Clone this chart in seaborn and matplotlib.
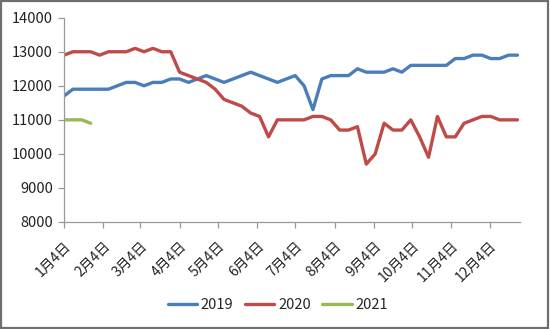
import matplotlib
matplotlib.use("Agg")
import matplotlib.pyplot as plt
import matplotlib.dates as mdates
from matplotlib.patches import Rectangle
import seaborn as sns
import pandas as pd

# ---- data ----
week_dates = pd.date_range("2020-01-04", periods=52, freq="7D")
s2019 = [11700, 11900, 11900, 11900, 11900, 11900, 12000, 12100, 12100, 12000,
         12100, 12100, 12200, 12200, 12100, 12200, 12300, 12200, 12100, 12200,
         12300, 12400, 12300, 12200, 12100, 12200, 12300, 12000, 11300, 12200,
         12300, 12300, 12300, 12500, 12400, 12400, 12400, 12500, 12400, 12600,
         12600, 12600, 12600, 12600, 12800, 12800, 12900, 12900, 12800, 12800,
         12900, 12900]
s2020 = [12900, 13000, 13000, 13000, 12900, 13000, 13000, 13000, 13100, 13000,
         13100, 13000, 13000, 12400, 12300, 12200, 12100, 11900, 11600, 11500,
         11400, 11200, 11100, 10500, 11000, 11000, 11000, 11000, 11100, 11100,
         11000, 10700, 10700, 10800, 9700, 10000, 10900, 10700, 10700, 11000,
         10500, 9900, 11100, 10500, 10500, 10900, 11000, 11100, 11100, 11000,
         11000, 11000]
s2021 = [11000, 11000, 11000, 10900]
series_names = ["2019", "2020", "2021"]
colors = ["#4a7ebb", "#be4b48", "#98b954"]
tick_dates = pd.to_datetime([f"2020-{m:02d}-04" for m in range(1, 13)])
tick_labels = [f"{m}月4日" for m in range(1, 13)]
y_ticks = [8000, 9000, 10000, 11000, 12000, 13000, 14000]

df = pd.concat([
    pd.DataFrame({"date": week_dates[:len(s2019)], "value": s2019, "year": "2019"}),
    pd.DataFrame({"date": week_dates[:len(s2020)], "value": s2020, "year": "2020"}),
    pd.DataFrame({"date": week_dates[:len(s2021)], "value": s2021, "year": "2021"}),
])

sns.set_style("white")
plt.rcParams["font.family"] = ["Noto Sans CJK SC", "DejaVu Sans"]

fig = plt.figure(figsize=(5.5, 3.29), dpi=100)
ax = fig.add_axes([64 / 550, 1 - 222 / 329, (520 - 64) / 550, (222 - 17.7) / 329])

sns.lineplot(data=df, x="date", y="value", hue="year", hue_order=series_names,
             palette=colors, linewidth=2.4, ax=ax, legend=True)

ax.set_xlim(pd.Timestamp("2020-01-04"), pd.Timestamp("2020-12-28"))
ax.set_ylim(8000, 14000)
ax.set_yticks(y_ticks)
ax.set_yticklabels([str(v) for v in y_ticks], fontsize=10.5, color="#222222")
ax.set_xticks(tick_dates)
ax.set_xticklabels(tick_labels, rotation=45, ha="right", va="top",
                   rotation_mode="anchor", fontsize=10, color="#222222")
ax.set_xlabel("")
ax.set_ylabel("")

for side in ["top", "right"]:
    ax.spines[side].set_visible(False)
for side in ["left", "bottom"]:
    ax.spines[side].set_color("#999999")
    ax.spines[side].set_linewidth(0.9)
ax.tick_params(axis="both", which="both", direction="out", length=4,
               color="#999999", width=0.9, left=True, bottom=True)
ax.tick_params(axis="x", pad=8)
ax.tick_params(axis="y", pad=4)

handles, labels = ax.get_legend_handles_labels()
ax.legend(handles, labels, loc="center", bbox_to_anchor=(278 / 550, 1 - 305 / 329),
          bbox_transform=fig.transFigure, ncol=3, frameon=False, fontsize=10.5,
          handlelength=2.0, handletextpad=0.25, columnspacing=0.8)

fig.patches.append(Rectangle((0.002, 0.003), 0.995, 0.994, transform=fig.transFigure,
                             fill=False, edgecolor="#6e6e6e", linewidth=1.6))

fig.savefig("out.png", dpi=100)
